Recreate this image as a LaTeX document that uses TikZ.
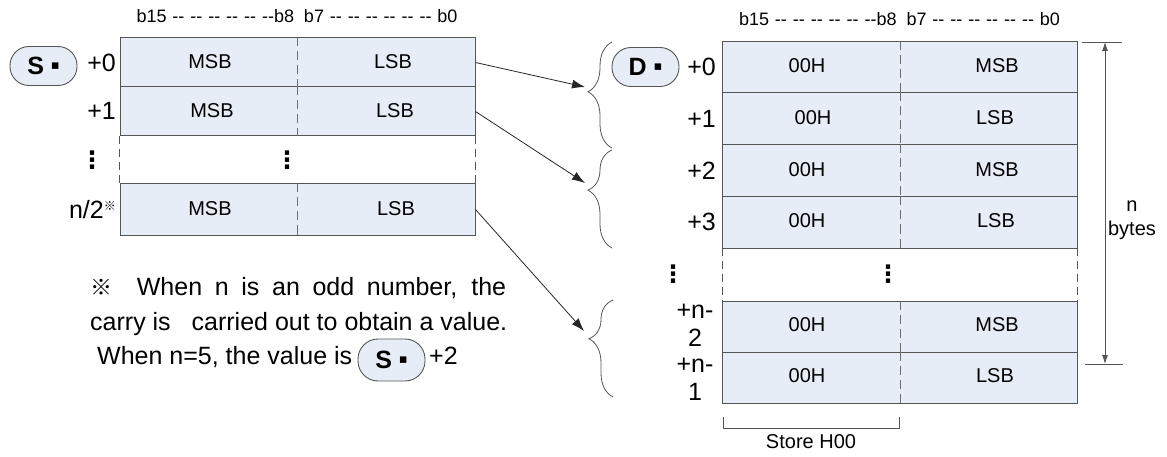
\documentclass[tikz,border=0pt]{standalone}
\usepackage{fontspec}
\setmainfont{Liberation Sans}
\newfontfamily\cjk{Noto Sans CJK SC}
\newfontfamily\djv{DejaVu Sans}
\usetikzlibrary{decorations.pathreplacing,arrows.meta,calc}
\definecolor{cellfill}{RGB}{231,237,247}
\definecolor{edge}{RGB}{85,85,85}
\newcommand{\sqdot}{\raisebox{5pt}{\djv\fontsize{13}{13}\selectfont ▪}}
\newcommand{\vdotsym}{{\djv\bfseries\fontsize{24}{24}\selectfont ⋮}}
\newcommand{\hh}{-{}-}
\newcommand{\bithdr}{\makebox[321pt][s]{b15 \hh{} \hh{} \hh{} \hh{} \hh{} \hh{}b8\hspace{4pt} b7 \hh{} \hh{} \hh{} \hh{} \hh{} \hh{} b0}}
\begin{document}
\begin{tikzpicture}[x=1pt,y=-1pt,
  cell/.style={draw=edge, fill=cellfill, line width=1pt, minimum width=355pt, inner sep=0pt},
  dotrow/.style={minimum width=355pt, inner sep=0pt},
  sidedash/.style={draw=edge, line width=0.8pt, dash pattern=on 8pt off 5pt},
  divider/.style={draw=edge!85, line width=0.8pt, dash pattern=on 9pt off 5pt},
  txt/.style={font=\fontsize{20}{24}\selectfont, inner sep=0pt},
  lbl/.style={font=\fontsize{25}{28}\selectfont, inner sep=0pt, anchor=east, align=center},
  pill/.style={draw=edge, fill=cellfill, rounded corners=19pt, minimum width=67pt, minimum height=39pt, inner sep=0pt, line width=0.9pt, font=\fontsize{25}{30}\selectfont\bfseries},
  hdr/.style={font=\fontsize{18}{20}\selectfont, inner sep=0pt, anchor=base},
  note/.style={font=\fontsize{25}{30}\selectfont, inner sep=0pt, anchor=base west},
  conn/.style={draw=black!85, line width=0.8pt, -{Latex[length=13pt,width=9pt]}},
  brc/.style={draw=edge, line width=0.8pt, decorate, decoration={brace, amplitude=24pt, aspect=#1}},
  dim/.style={draw=edge, line width=0.8pt},
]
\useasboundingbox (0,0) rectangle (1167,457);

% ---------- left table ----------
\node[hdr] (lhdr) at (297,23) {\bithdr};
\node[cell, minimum height=49pt] (L0) at (297.5,62.5) {};
\node[cell, minimum height=49pt] (L1) at (297.5,111.5) {};
\node[dotrow, minimum height=48pt] (L2) at (297.5,160) {};
\node[cell, minimum height=51pt] (L3) at (297.5,209.5) {};
\draw[sidedash] (L2.north west) -- (L2.south west);
\draw[sidedash] (L2.north east) -- (L2.south east);
\foreach \r in {L0,L1,L3} \draw[divider] (\r.north) -- (\r.south);

\node[txt] (L0m) at (210,61.5) {MSB};
\node[txt] (L0l) at (393,61.5) {LSB};
\node[txt] (L1m) at (212,110.5) {MSB};
\node[txt] (L1l) at (395,110.5) {LSB};
\node[inner sep=0pt] (L2d) at (287,160) {\vdotsym};
\node[txt] (L3m) at (210,208.5) {MSB};
\node[txt] (L3l) at (396,208.5) {LSB};

\node[pill] (S) at (43.5,66) {S\hspace{7pt}\sqdot};
\node[lbl] (l0) at (116,63) {+0};
\node[lbl] (l1) at (116,111) {+1};
\node[inner sep=0pt] (l2) at (92,160) {\vdotsym};
\node[lbl] (l3) at (116,210) {n/2\raisebox{8pt}{\cjk\fontsize{12}{12}\selectfont ※}};

% ---------- note ----------
\node[note] (n1) at (90,295) {\makebox[416pt][s]{{\cjk\fontsize{22}{22}\selectfont ※}\hspace{12pt} When n is an odd number, the}};
\node[note] (n2) at (90,330) {carry is\hspace{14pt} carried out to obtain a value.};
\node[note] (n3) at (97,364) {When n=5, the value is};
\node[pill, minimum height=42pt, rounded corners=20pt] (S2) at (391.5,360) {S\hspace{7pt}\sqdot};
\node[note] (n4) at (429,364) {+2};

% ---------- right table ----------
\node[hdr] (rhdr) at (899.5,26) {\bithdr};
\node[cell, minimum height=51pt] (R0) at (900,67.5) {};
\node[cell, minimum height=52pt] (R1) at (900,119) {};
\node[cell, minimum height=52pt] (R2) at (900,171) {};
\node[cell, minimum height=51pt] (R3) at (900,222.5) {};
\node[dotrow, minimum height=53pt] (R4) at (900,274.5) {};
\node[cell, minimum height=51pt] (R5) at (900,326.5) {};
\node[cell, minimum height=51pt] (R6) at (900,377.5) {};
\draw[sidedash] (R4.north west) -- (R4.south west);
\draw[sidedash] (R4.north east) -- (R4.south east);
\foreach \r in {R0,R1,R2,R3,R5,R6} \draw[divider] (\r.north) -- (\r.south);

\node[txt] (R0a) at (807,66) {00H};
\node[txt] (R0b) at (997,66) {MSB};
\node[txt] (R1a) at (813,117.5) {00H};
\node[txt] (R1b) at (995,117.5) {LSB};
\node[txt] (R2a) at (807,169.5) {00H};
\node[txt] (R2b) at (997,169.5) {MSB};
\node[txt] (R3a) at (807,221) {00H};
\node[txt] (R3b) at (996,221) {LSB};
\node[inner sep=0pt] (R4d) at (888,274) {\vdotsym};
\node[txt] (R5a) at (807,325) {00H};
\node[txt] (R5b) at (997,325) {MSB};
\node[txt] (R6a) at (807,376) {00H};
\node[txt] (R6b) at (995,376) {LSB};

\node[pill] (D) at (645.5,67) {D\hspace{7pt}\sqdot};
\node[lbl] (r0) at (716,67) {+0};
\node[lbl] (r1) at (716,119) {+1};
\node[lbl] (r2) at (716,171) {+2};
\node[lbl] (r3) at (716,222) {+3};
\node[inner sep=0pt] (r4) at (673,274) {\vdotsym};
\node[lbl, anchor=center] (r5) at (695,325) {+n-\\2};
\node[lbl, anchor=center] (r6) at (695,379) {+n-\\1};

% ---------- braces ----------
\draw[brc=0.53] (612,148) -- (612,42);
\draw[brc=0.59] (612,248) -- (612,150);
\draw[brc=0.60] (613,397) -- (613,300);

% ---------- connectors ----------
\coordinate (t1) at (585,87);
\coordinate (t2) at (585,183);
\coordinate (t3) at (584,331);
\draw[conn] (L0.east) -- (t1);
\draw[conn] (L1.east) -- (t2);
\draw[conn] (L3.east) -- (t3);

% ---------- dimension ----------
\coordinate (dt1) at (1082,42);
\coordinate (dt2) at (1122,42);
\coordinate (db1) at (1085,364);
\coordinate (db2) at (1123,364);
\coordinate (dtop) at (1105,42);
\coordinate (dbot) at (1105,364);
\draw[dim] (dt1) -- (dt2);
\draw[dim] (db1) -- (db2);
\draw[dim, {Latex[length=9pt,width=6pt]}-{Latex[length=9pt,width=6pt]}] (dtop) -- (dbot);
\node[font=\fontsize{20}{24}\selectfont, align=center, inner sep=0pt] (nb) at (1132,220) {n\\bytes};

% ---------- store bracket ----------
\coordinate (s1) at (723,417);
\coordinate (s2) at (723,428);
\coordinate (s3) at (899,428);
\coordinate (s4) at (899,417);
\draw[dim] (s1) -- (s2) -- (s3) -- (s4);
\node[txt] (st) at (811,442) {Store H00};
\end{tikzpicture}
\end{document}
